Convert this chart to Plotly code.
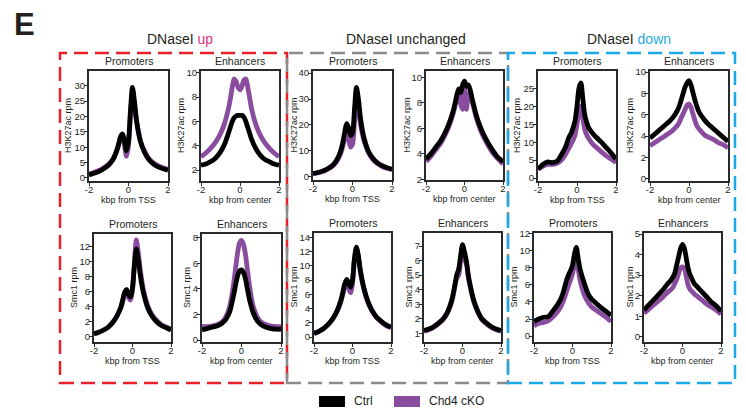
import plotly.graph_objects as go

W, H = 746, 408

# ---------------- data ----------------
X_KBP = [-2, -1.75, -1.5, -1.25, -1, -0.8, -0.6, -0.5, -0.4, -0.3, -0.2, -0.1, 0,
         0.1, 0.2, 0.3, 0.4, 0.5, 0.6, 0.8, 1, 1.25, 1.5, 1.75, 2]

SERIES_NAMES = ["Ctrl", "Chd4 cKO"]
X_TICK_VALS = [-2, 0, 2]
X_TICK_TEXT = ["-2", "0", "2"]

# H3K27ac, DNaseI up
h3_up_prom_ctrl = [1.0, 1.5, 2.1, 3.0, 4.2, 5.8, 8.8, 11.0, 13.5, 14.3, 12.0, 8.8, 12.0,
                   22.0, 29.5, 25.0, 19.0, 15.0, 12.0, 8.5, 6.2, 4.6, 3.6, 3.0, 2.5]
h3_up_prom_cko = [1.3, 1.8, 2.4, 3.3, 4.5, 6.0, 8.8, 10.8, 13.0, 13.5, 10.5, 7.0, 10.5,
                  20.5, 27.5, 24.0, 18.8, 15.0, 12.2, 8.8, 6.6, 5.0, 4.0, 3.3, 2.8]
h3_up_enh_ctrl = [2.4, 2.5, 2.7, 3.0, 3.5, 4.1, 5.0, 5.5, 6.0, 6.3, 6.45, 6.5, 6.5,
                  6.5, 6.35, 6.0, 5.5, 5.0, 4.5, 3.8, 3.3, 2.9, 2.7, 2.5, 2.4]
h3_up_enh_cko = [3.1, 3.4, 3.8, 4.3, 5.0, 5.8, 7.0, 7.8, 8.8, 9.5, 9.3, 8.8, 8.6,
                 8.9, 9.4, 9.5, 8.8, 7.9, 7.0, 5.8, 5.0, 4.3, 3.8, 3.4, 3.1]
# H3K27ac, DNaseI unchanged
h3_unch_prom_ctrl = [1.3, 1.7, 2.3, 3.2, 4.5, 6.5, 10.0, 13.0, 17.0, 20.5, 19.0, 16.0, 17.0,
                     26.0, 34.5, 30.0, 23.0, 18.0, 14.5, 10.0, 7.5, 5.5, 4.3, 3.5, 3.0]
h3_unch_prom_cko = [1.2, 1.6, 2.1, 3.0, 4.2, 6.0, 9.0, 11.5, 14.5, 17.0, 15.0, 11.5, 12.5,
                    21.0, 29.0, 26.0, 20.5, 16.5, 13.5, 9.5, 7.0, 5.2, 4.0, 3.3, 2.8]
h3_unch_enh_ctrl = [3.6, 4.0, 4.5, 5.0, 5.7, 6.4, 7.3, 7.9, 8.6, 9.1, 8.8, 9.4, 9.7,
                    9.3, 9.4, 9.0, 8.3, 7.7, 7.1, 6.2, 5.5, 4.8, 4.2, 3.7, 3.4]
h3_unch_enh_cko = [3.4, 3.8, 4.3, 4.8, 5.5, 6.2, 7.1, 7.7, 8.4, 8.8, 7.9, 7.5, 9.3,
                   7.5, 8.6, 8.8, 8.1, 7.5, 6.9, 6.0, 5.3, 4.6, 4.0, 3.6, 3.2]
# H3K27ac, DNaseI down
h3_down_prom_ctrl = [2.5, 3.8, 4.5, 4.3, 4.8, 6.5, 8.5, 10.0, 11.5, 12.5, 14.0, 16.0, 20.0,
                     25.0, 26.5, 22.0, 17.5, 15.5, 14.0, 12.5, 11.3, 10.0, 8.5, 7.0, 5.3]
h3_down_prom_cko = [2.5, 3.3, 3.8, 3.8, 4.2, 5.0, 6.5, 7.5, 8.5, 9.5, 10.5, 12.0, 15.0,
                    18.5, 20.0, 16.5, 13.5, 12.0, 11.0, 9.5, 8.5, 7.3, 6.2, 5.3, 4.3]
h3_down_enh_ctrl = [3.8, 4.2, 4.6, 5.0, 5.4, 5.8, 6.4, 6.8, 7.4, 8.0, 8.6, 9.0, 9.2,
                    8.8, 8.1, 7.4, 6.8, 6.3, 6.0, 5.5, 5.1, 4.7, 4.3, 3.9, 3.5]
h3_down_enh_cko = [3.1, 3.4, 3.7, 4.0, 4.3, 4.6, 5.0, 5.3, 5.7, 6.1, 6.5, 6.9, 7.0,
                   6.7, 6.1, 5.5, 5.0, 4.7, 4.5, 4.1, 3.9, 3.7, 3.4, 3.2, 2.9]
# Smc1, DNaseI up
smc_up_prom_ctrl = [0.4, 0.6, 0.9, 1.3, 2.0, 2.8, 4.0, 5.0, 6.0, 6.3, 5.6, 5.3, 6.5,
                    9.5, 11.7, 10.3, 8.3, 6.7, 5.5, 3.8, 2.8, 2.0, 1.5, 1.2, 0.9]
smc_up_prom_cko = [0.4, 0.6, 0.9, 1.3, 2.0, 2.8, 3.9, 4.8, 5.8, 6.1, 5.2, 4.9, 6.3,
                   10.0, 12.9, 11.2, 9.0, 7.2, 5.9, 4.1, 3.0, 2.2, 1.6, 1.3, 1.0]
smc_up_enh_ctrl = [0.8, 0.9, 1.0, 1.1, 1.3, 1.6, 2.2, 2.8, 3.5, 4.3, 5.0, 5.4, 5.5,
                   5.3, 4.8, 4.0, 3.2, 2.6, 2.1, 1.5, 1.2, 1.0, 0.9, 0.85, 0.85]
smc_up_enh_cko = [1.05, 1.05, 1.1, 1.2, 1.4, 1.8, 2.6, 3.4, 4.4, 5.6, 6.8, 7.6, 7.8,
                  7.5, 6.7, 5.5, 4.3, 3.3, 2.6, 1.8, 1.4, 1.2, 1.1, 1.05, 1.05]
# Smc1, DNaseI unchanged
smc_unch_prom_ctrl = [0.5, 0.8, 1.2, 1.8, 2.7, 3.7, 5.2, 6.3, 7.5, 8.1, 7.5, 7.0, 8.0,
                      11.0, 12.6, 11.5, 9.5, 8.0, 6.8, 5.0, 3.8, 2.8, 2.2, 1.7, 1.4]
smc_unch_prom_cko = [0.5, 0.8, 1.2, 1.8, 2.6, 3.6, 5.0, 6.0, 7.2, 7.8, 6.8, 6.2, 7.5,
                     10.8, 12.4, 11.3, 9.3, 7.8, 6.6, 4.9, 3.7, 2.7, 2.1, 1.6, 1.3]
smc_unch_enh_ctrl = [1.2, 1.3, 1.45, 1.7, 2.0, 2.4, 3.1, 3.6, 4.3, 5.0, 5.4, 6.3, 7.1,
                     6.6, 6.0, 5.0, 4.3, 3.7, 3.2, 2.5, 2.0, 1.7, 1.45, 1.3, 1.2]
smc_unch_enh_cko = [1.15, 1.25, 1.4, 1.65, 1.95, 2.35, 3.0, 3.5, 4.2, 4.8, 5.0, 6.0, 7.0,
                    6.1, 5.8, 4.9, 4.2, 3.6, 3.1, 2.45, 1.95, 1.65, 1.4, 1.25, 1.15]
# Smc1, DNaseI down
smc_down_prom_ctrl = [1.7, 2.0, 2.2, 2.3, 3.0, 3.6, 4.4, 5.0, 5.8, 6.6, 7.2, 7.7, 8.3,
                      9.6, 10.4, 9.0, 7.8, 7.0, 6.3, 5.0, 4.3, 3.8, 3.3, 2.9, 2.4]
smc_down_prom_cko = [1.2, 1.5, 1.6, 1.8, 2.3, 2.8, 3.5, 4.0, 4.6, 5.3, 6.0, 6.6, 7.3,
                     8.3, 9.0, 7.8, 6.5, 5.6, 4.9, 4.0, 3.4, 3.0, 2.6, 2.2, 1.7]
smc_down_enh_ctrl = [1.3, 1.55, 1.8, 2.05, 2.3, 2.55, 2.75, 2.9, 3.1, 3.5, 3.9, 4.3, 4.5,
                     4.3, 3.8, 3.3, 3.0, 2.8, 2.6, 2.4, 2.2, 1.95, 1.7, 1.5, 1.25]
smc_down_enh_cko = [1.15, 1.35, 1.55, 1.75, 1.95, 2.15, 2.3, 2.4, 2.6, 2.8, 3.1, 3.35, 3.4,
                    3.3, 2.9, 2.5, 2.3, 2.2, 2.1, 1.95, 1.8, 1.6, 1.45, 1.3, 1.1]

# ---------------- layout of panels (pixels) ----------------
panels = [
    # ctrl, cko, title, ylabel, xlabel, yrange, ytick dtick, box (x0, x1, ytop, ybot), ytitle offset
    (h3_up_prom_ctrl, h3_up_prom_cko, "Promoters", "H3K27ac rpm", "kbp from TSS", [-1, 34.8], 5, (89, 168, 71, 181), 21),
    (h3_up_enh_ctrl, h3_up_enh_cko, "Enhancers", "H3K27ac rpm", "kbp from center", [1.1, 10.15], 2, (201, 279, 71, 181), 20),
    (h3_unch_prom_ctrl, h3_unch_prom_cko, "Promoters", "H3K27ac rpm", "kbp from TSS", [-1.2, 40.8], 10, (313, 392, 71, 180), 20),
    (h3_unch_enh_ctrl, h3_unch_enh_cko, "Enhancers", "H3K27ac rpm", "kbp from center", [1.95, 10.5], 2, (426, 503, 71, 180), 20),
    (h3_down_prom_ctrl, h3_down_prom_cko, "Promoters", "H3K27ac rpm", "kbp from TSS", [-0.8, 29.8], 5, (538, 616, 71, 181), 21),
    (h3_down_enh_ctrl, h3_down_enh_cko, "Enhancers", "H3K27ac rpm", "kbp from center", [-0.2, 10.1], 2, (650, 728, 71, 181), 20),
    (smc_up_prom_ctrl, smc_up_prom_cko, "Promoters", "Smc1 rpm", "kbp from TSS", [-0.7, 13.7], 2, (94, 171, 234, 342), 20),
    (smc_up_enh_ctrl, smc_up_enh_cko, "Enhancers", "Smc1 rpm", "kbp from center", [-0.15, 8.3], 2, (202, 281, 234, 342), 15),
    (smc_unch_prom_ctrl, smc_unch_prom_cko, "Promoters", "Smc1 rpm", "kbp from TSS", [-0.7, 14.6], 2, (314, 391, 233, 342), 21),
    (smc_unch_enh_ctrl, smc_unch_enh_cko, "Enhancers", "Smc1 rpm", "kbp from center", [0.4, 7.9], 1, (424, 501, 233, 342), 16),
    (smc_down_prom_ctrl, smc_down_prom_cko, "Promoters", "Smc1 rpm", "kbp from TSS", [-0.7, 12.1], 2, (534, 611, 233, 342), 21),
    (smc_down_enh_ctrl, smc_down_enh_cko, "Enhancers", "Smc1 rpm", "kbp from center", [-0.25, 5.05], 1, (644, 721, 233, 342), 15),
]

CTRL_COLOR = "#000000"
CKO_COLOR = "#8A4C9E"
FRAME = "#2a2a2a"
TXT = "#231F20"
FONT = "Arial, Liberation Sans, sans-serif"


def fx(p):
    return p / W


def fy(p):
    return 1 - p / H


fig = go.Figure()
layout = {}
annotations = []

for i, (ctrl, cko, title, ylab, xlab, yr, dt, box, yoff) in enumerate(panels):
    n = i + 1
    xa = "x" if n == 1 else f"x{n}"
    ya = "y" if n == 1 else f"y{n}"
    x0, x1, yt, yb = box
    for vals, col, name in ((cko, CKO_COLOR, SERIES_NAMES[1]), (ctrl, CTRL_COLOR, SERIES_NAMES[0])):
        fig.add_trace(go.Scatter(
            x=X_KBP, y=vals, mode="lines", name=name, showlegend=False,
            line=dict(color=col, width=4.8, shape="spline", smoothing=0.8),
            xaxis=xa, yaxis=ya, hoverinfo="skip"))
    common = dict(showgrid=False, zeroline=False, showline=True, mirror=True,
                  linewidth=2, linecolor=FRAME, ticks="outside", ticklen=3,
                  tickwidth=1, tickcolor=FRAME, automargin=False,
                  tickfont=dict(size=9.5, color=TXT, family=FONT))
    layout["xaxis" if n == 1 else f"xaxis{n}"] = dict(
        common, domain=[fx(x0), fx(x1)], range=[-2, 2], ticklabelstandoff=-4,
        tickvals=X_TICK_VALS, ticktext=X_TICK_TEXT, anchor=ya)
    layout["yaxis" if n == 1 else f"yaxis{n}"] = dict(
        common, domain=[fy(yb), fy(yt)], range=yr, dtick=dt, tick0=0, anchor=xa,
        ticklabelstandoff=-3)
    # panel title
    annotations.append(dict(
        x=fx((x0 + x1) / 2), y=fy(yt - 2), xref="paper", yref="paper",
        text=title, showarrow=False, xanchor="center", yanchor="bottom",
        font=dict(size=10.5, color=TXT, family=FONT)))
    # x axis title
    annotations.append(dict(
        x=fx((x0 + x1) / 2), y=fy(yb + 19), xref="paper", yref="paper",
        text=xlab, showarrow=False, xanchor="center", yanchor="middle",
        font=dict(size=9, color=TXT, family=FONT)))
    # y axis title
    annotations.append(dict(
        x=fx(x0 - yoff), y=fy((yt + yb) / 2), xref="paper", yref="paper",
        text=ylab, showarrow=False, xanchor="center", yanchor="middle", textangle=-90,
        font=dict(size=9, color=TXT, family=FONT)))

# group titles
group_titles = [
    ("DNaseI <span style='color:#E6307A'>up</span>", 180),
    ("DNaseI unchanged", 406),
    ("DNaseI <span style='color:#29ABE2'>down</span>", 629),
]
for txt, cx in group_titles:
    annotations.append(dict(x=fx(cx), y=fy(39), xref="paper", yref="paper", text=txt,
                            showarrow=False, xanchor="center", yanchor="middle",
                            font=dict(size=14, color=TXT, family=FONT)))

# panel letter
annotations.append(dict(x=fx(12), y=fy(24), xref="paper", yref="paper", text="<b>E</b>",
                        showarrow=False, xanchor="left", yanchor="middle",
                        font=dict(size=31, color=TXT, family=FONT)))

# legend labels
annotations.append(dict(x=fx(352), y=fy(401), xref="paper", yref="paper", text=SERIES_NAMES[0],
                        showarrow=False, xanchor="left", yanchor="middle",
                        font=dict(size=12, color=TXT, family=FONT)))
annotations.append(dict(x=fx(427), y=fy(401), xref="paper", yref="paper", text=SERIES_NAMES[1],
                        showarrow=False, xanchor="left", yanchor="middle",
                        font=dict(size=12, color=TXT, family=FONT)))

shapes = []
# dashed group boxes
for (bx0, bx1, col) in ((60, 287, "#E8202A"), (287, 508, "#8C8C8C"), (508, 735, "#1BA9E8")):
    shapes.append(dict(type="rect", xref="paper", yref="paper",
                       x0=fx(bx0), x1=fx(bx1), y0=fy(383), y1=fy(53),
                       line=dict(color=col, width=2.5, dash="14px,7px"),
                       fillcolor="rgba(0,0,0,0)", layer="below"))
# legend swatches
shapes.append(dict(type="rect", xref="paper", yref="paper", x0=fx(319), x1=fx(345),
                   y0=fy(407), y1=fy(396), fillcolor=CTRL_COLOR, line=dict(width=0)))
shapes.append(dict(type="rect", xref="paper", yref="paper", x0=fx(394), x1=fx(420),
                   y0=fy(407), y1=fy(396), fillcolor=CKO_COLOR, line=dict(width=0)))

fig.update_layout(
    width=W, height=H, margin=dict(l=0, r=0, t=0, b=0),
    paper_bgcolor="white", plot_bgcolor="white",
    showlegend=False, annotations=annotations, shapes=shapes,
    font=dict(family=FONT, color=TXT),
    **layout)

fig.write_html("out.html",
               config={"displayModeBar": False},
               post_script="document.body.style.margin='0px';document.body.style.overflow='hidden';")
